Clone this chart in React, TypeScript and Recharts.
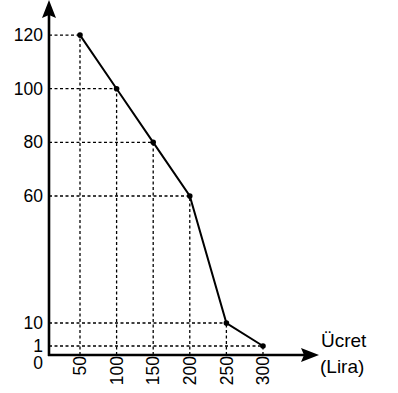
import React from 'react';
import {
  LineChart,
  Line,
  XAxis,
  YAxis,
  ReferenceLine,
  Customized,
} from 'recharts';

const prices = [50, 100, 150, 200, 250, 300];
const demand = [120, 100, 80, 60, 10, 1];
const yTicks = [0, 1, 10, 60, 80, 100, 120];

// the picture stretches the low end of the y axis, so the scale is piecewise
const yKnots = [0, 1, 10, 60, 120];
const yKnotFrac = [0, 0.0269, 0.0955, 0.4746, 0.955];

const data = prices.map((p, i) => ({ price: p, qty: demand[i] }));

const W = 398;
const H = 393;
const LEFT = 49;
const TOP = 20;
const RIGHT = 305;
const BOTTOM = 355;
const X_DOMAIN: [number, number] = [7.65, 357.4];
const FONT = '"Liberation Sans", Arial, sans-serif';
const textStyle = { fontFamily: FONT };

function piecewiseScale(dom: number[] = [0, 1], rng: number[] = [0, 1]): any {
  let d = dom;
  let r = rng;
  const s: any = (v: number) => {
    let i = 0;
    while (i < yKnots.length - 2 && v > yKnots[i + 1]) i++;
    const t = (v - yKnots[i]) / (yKnots[i + 1] - yKnots[i]);
    const f = yKnotFrac[i] + t * (yKnotFrac[i + 1] - yKnotFrac[i]);
    return r[0] + f * (r[1] - r[0]);
  };
  s.domain = (x?: number[]) => {
    if (x === undefined) return d;
    d = x;
    return s;
  };
  s.range = (x?: number[]) => {
    if (x === undefined) return r;
    r = x;
    return s;
  };
  s.copy = () => piecewiseScale(d, r);
  s.ticks = () => yTicks;
  return s;
}

const YTick = (props: any) => {
  const { x, y, payload } = props;
  const shift = payload.value === 0 ? 8 : 0;
  return (
    <text
      x={x}
      y={y + shift}
      dy="0.35em"
      textAnchor="end"
      fontSize={17.5}
      style={textStyle}
      fill="#000"
    >
      {payload.value}
    </text>
  );
};

const XTick = (props: any) => {
  const { x, y, payload } = props;
  return (
    <text
      x={x}
      y={y}
      dy="0.35em"
      textAnchor="end"
      transform={`rotate(-90, ${x}, ${y})`}
      fontSize={17.5}
      style={textStyle}
      fill="#000"
    >
      {payload.value}
    </text>
  );
};

const Arrows = () => (
  <g>
    <line x1={LEFT} y1={BOTTOM + 1} x2={LEFT} y2={12} stroke="#000" strokeWidth={2.6} />
    <line x1={LEFT - 1} y1={BOTTOM} x2={310} y2={BOTTOM} stroke="#000" strokeWidth={2.6} />
    <polygon points={`${LEFT},0 ${LEFT + 7},18 ${LEFT},15 ${LEFT - 7},18`} fill="#000" />
    <polygon points={`319,${BOTTOM} 301,${BOTTOM + 7} 304,${BOTTOM} 301,${BOTTOM - 7}`} fill="#000" />
    <text x={321} y={347} fontSize={19} style={textStyle} fill="#000">
      Ücret
    </text>
    <text x={320} y={373} fontSize={19} style={textStyle} fill="#000">
      (Lira)
    </text>
  </g>
);

export default function App() {
  return (
    <div style={{ position: 'absolute', left: 0, top: 0, background: '#fff' }}>
      <LineChart
        width={W}
        height={H}
        data={data}
        margin={{ top: TOP, left: 0, right: W - RIGHT, bottom: 0 }}
      >
        <XAxis
          dataKey="price"
          type="number"
          domain={X_DOMAIN}
          ticks={prices}
          allowDataOverflow
          height={H - BOTTOM}
          axisLine={false}
          tickLine={false}
          tickSize={0}
          tickMargin={1}
          tick={<XTick />}
          interval={0}
        />
        <YAxis
          type="number"
          domain={[0, 120]}
          scale={piecewiseScale()}
          ticks={yTicks}
          width={LEFT}
          axisLine={false}
          tickLine={false}
          tickSize={0}
          tickMargin={6}
          tick={<YTick />}
          interval={0}
        />
        {data.map((d) => (
          <ReferenceLine
            key={`h${d.price}`}
            segment={[
              { x: X_DOMAIN[0], y: d.qty },
              { x: d.price, y: d.qty },
            ]}
            stroke="#000"
            strokeWidth={1.3}
            strokeDasharray="3 2.5"
            ifOverflow="visible"
          />
        ))}
        {data.map((d) => (
          <ReferenceLine
            key={`v${d.price}`}
            segment={[
              { x: d.price, y: 0 },
              { x: d.price, y: d.qty },
            ]}
            stroke="#000"
            strokeWidth={1.3}
            strokeDasharray="3 2.5"
            ifOverflow="visible"
          />
        ))}
        <Line
          dataKey="qty"
          type="linear"
          stroke="#000"
          strokeWidth={2}
          dot={{ r: 2.8, fill: '#000', stroke: '#000', strokeWidth: 0 }}
          isAnimationActive={false}
        />
        <Customized component={Arrows} />
      </LineChart>
    </div>
  );
}
